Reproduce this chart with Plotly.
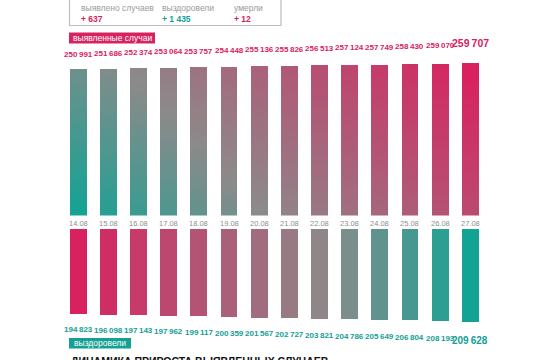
import plotly.graph_objects as go

dates = ["14.08", "15.08", "16.08", "17.08", "18.08", "19.08", "20.08",
         "21.08", "22.08", "23.08", "24.08", "25.08", "26.08", "27.08"]
cases = [250991, 251686, 252374, 253064, 253757, 254448, 255136,
         255826, 256513, 257124, 257749, 258430, 259070, 259707]
recovered = [194823, 196098, 197143, 197962, 199117, 200359, 201567,
             202727, 203821, 204786, 205649, 206804, 208193, 209628]
summary_labels = ["выявлено случаев", "выздоровели", "умерли"]
summary_values = ["+ 637", "+ 1 435", "+ 12"]

W, H = 550, 360
PINK = "#d8225f"
TEAL = "#14a093"
GRAY_TXT = "#8e8e8e"
STOPS = [(0.0, (18, 163, 148)), (0.36, (140, 138, 138)), (1.0, (216, 34, 95))]


def mix(s):
    s = max(0.0, min(1.0, s))
    for (a, ca), (b, cb) in zip(STOPS[:-1], STOPS[1:]):
        if s <= b:
            f = (s - a) / (b - a)
            c = [round(ca[i] + (cb[i] - ca[i]) * f) for i in range(3)]
            return "rgb(%d,%d,%d)" % tuple(c)
    return "rgb(%d,%d,%d)" % STOPS[-1][1]


def p(px):
    return 1 - px / H


def fmt(v):
    return f"{v:,}".replace(",", "\u2009")


n = len(dates)
TOP_BASE, TOP_MAX = 27000, 267826
BOT_BASE, BOT_MAX = 24200, 226200

# top bars drawn as vertical gradient segments of each value
NSEG = 30
sx, sy, sb, sc = [], [], [], []
for i, (d, v) in enumerate(zip(dates, cases)):
    t = i / (n - 1)
    span = v - TOP_BASE
    for j in range(NSEG):
        h = (j + 0.5) / NSEG
        base = TOP_BASE + span * j / NSEG
        seg = span / NSEG * (1.0 if j == NSEG - 1 else 1.15)
        sx.append(d)
        sb.append(base)
        sy.append(seg)
        sc.append(mix(0.75 * t + 0.27 * h))

fig = go.Figure()
fig.add_trace(go.Bar(x=sx, y=sy, base=sb, marker=dict(color=sc, line=dict(width=0)),
                     width=0.56, hoverinfo="skip", yaxis="y", xaxis="x",
                     showlegend=False))
fig.add_trace(go.Bar(x=dates, y=recovered,
                     marker=dict(color=[mix(1 - i / (n - 1)) for i in range(n)],
                                 line=dict(width=0)),
                     width=0.56, yaxis="y2", xaxis="x", showlegend=False))

xr = [-78.3 / 30.15, -78.3 / 30.15 + W / 30.15]
fig.update_layout(
    width=W, height=H, margin=dict(l=0, r=0, t=0, b=0),
    paper_bgcolor="white", plot_bgcolor="white",
    barmode="overlay", bargap=0,
    xaxis=dict(range=xr, visible=False, type="category", categoryorder="array",
               categoryarray=dates),
    yaxis=dict(domain=[p(215.5), p(58)], range=[TOP_BASE, TOP_MAX], visible=False),
    yaxis2=dict(domain=[p(330), p(229)], range=[BOT_MAX, BOT_BASE], visible=False),
    font=dict(family="Liberation Sans, Arial, sans-serif"),
)

ann = []
VF = "Liberation Sans, Arial"
for i, (d, v) in enumerate(zip(dates, cases)):
    last = i == n - 1
    ann.append(dict(x=i, y=v, xref="x", yref="y", text="<b>" + fmt(v) + "</b>",
                    showarrow=False, yanchor="middle",
                    yshift=20 if last else 15 + 3.0 * i / (n - 2),
                    font=dict(size=10.5 if last else 8, color=PINK, family=VF)))
    ann.append(dict(x=i, y=p(223), xref="x", yref="paper", text=d, showarrow=False,
                    yanchor="middle", font=dict(size=7.5, color=GRAY_TXT)))
for i, (d, v) in enumerate(zip(dates, recovered)):
    last = i == n - 1
    ann.append(dict(x=i, y=v, xref="x", yref="y2", text="<b>" + fmt(v) + "</b>",
                    showarrow=False, yanchor="middle",
                    yshift=-19 if last else -(15 + 2.6 * i / (n - 2)),
                    font=dict(size=10 if last else 8, color=TEAL, family=VF)))

# summary box
sum_x = [79, 160, 232]
sum_col = [PINK, TEAL, PINK]
for lbl, val, xx, col in zip(summary_labels, summary_values, sum_x, sum_col):
    ann.append(dict(x=xx / W, y=p(7.5), xref="paper", yref="paper", text=lbl,
                    showarrow=False, xanchor="left", yanchor="middle",
                    font=dict(size=8.5, color="#9a9a9a")))
    ann.append(dict(x=xx / W, y=p(19), xref="paper", yref="paper", text="<b>" + val + "</b>",
                    showarrow=False, xanchor="left", yanchor="middle",
                    font=dict(size=8.5, color=col)))

# section tags
ann.append(dict(x=112 / W, y=p(38), xref="paper", yref="paper",
                text="выявленные случаи", showarrow=False, xanchor="center", yanchor="middle",
                font=dict(size=8.5, color="white")))
ann.append(dict(x=100 / W, y=p(343.3), xref="paper", yref="paper",
                text="выздоровели", showarrow=False, xanchor="center", yanchor="middle",
                font=dict(size=8.5, color="white")))
ann.append(dict(x=69 / W, y=p(360.5), xref="paper", yref="paper",
                text="<b>ДИНАМИКА ПРИРОСТА ВЫЯВЛЕННЫХ СЛУЧАЕВ</b>", showarrow=False,
                xanchor="left", yanchor="middle",
                font=dict(size=10.5, color="#111111")))
fig.update_layout(annotations=ann)

shapes = [
    dict(type="rect", xref="paper", yref="paper", x0=69.5 / W, x1=281 / W,
         y0=p(25.5), y1=p(-5), line=dict(color="#bdbdbd", width=1.2), fillcolor="rgba(0,0,0,0)"),
    dict(type="rect", xref="paper", yref="paper", x0=69 / W, x1=155 / W,
         y0=p(43.5), y1=p(32.5), line=dict(width=0), fillcolor=PINK, layer="below"),
    dict(type="rect", xref="paper", yref="paper", x0=69 / W, x1=131 / W,
         y0=p(348.5), y1=p(338), line=dict(width=0), fillcolor=TEAL, layer="below"),
]
fig.update_layout(shapes=shapes)

fig.write_html("out.html", config={"displayModeBar": False},
               post_script="document.body.style.margin='0';document.body.style.overflow='hidden';")
